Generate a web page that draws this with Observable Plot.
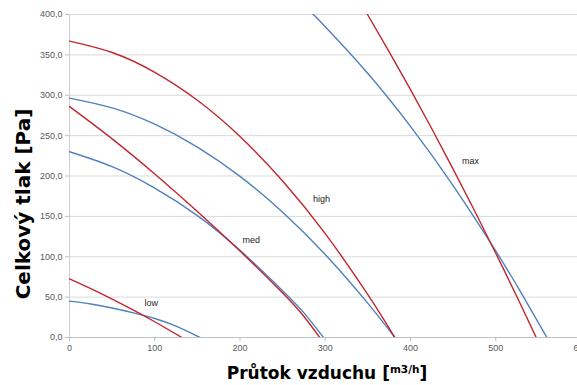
<!DOCTYPE html>
<html><head><meta charset="utf-8">
<script src="https://cdn.jsdelivr.net/npm/d3@7"></script>
<script src="https://cdn.jsdelivr.net/npm/@observablehq/plot@0.6"></script>
<style>html,body{margin:0;padding:0;overflow:hidden;background:#fff}</style>
</head><body><div id="chart"></div>
<script>
const xTicks = [0, 100, 200, 300, 400, 500, 600];
const yTicks = [0, 50, 100, 150, 200, 250, 300, 350, 400];

// red curves [flow m3/h, pressure Pa]
const lowRed  = [[0,72.5],[25,60.4],[50,47.5],[75,33.9],[100,19.5],[132,0]];
const medRed  = [[0,286],[50,246],[100,202.5],[150,156],[200,107],[250,55],[275,26],[293.6,0]];
const highRed = [[0,367],[50,352.9],[100,328.4],[150,293.8],[200,249],[250,193.9],[300,128.6],[350,53],[381.6,0]];
const maxRed  = [[349.6,400],[375,353.8],[400,306.9],[425,258.5],[450,208.6],[475,157.3],[500,104.4],[525,50.1],[547.5,0]];

// blue curves
const lowBlue  = [[0,45],[25,41.5],[50,36.5],[75,30.5],[100,23.5],[125,14],[153,0]];
const medBlue  = [[0,230],[50,211.5],[100,185],[150,151],[200,108],[250,58],[275,30.5],[298,0]];
const highBlue = [[0,296.5],[50,284.3],[100,264.1],[150,235.8],[200,199.5],[250,155.2],[300,102.8],[350,42.3],[381.6,0]];
const maxBlue  = [[285.8,400],[300,384.9],[350,327],[400,261.5],[450,188.2],[500,107.2],[530,55],[560,0]];

const curveNames = ["low", "med", "high", "max"];
const labelX = [95.8, 213.1, 295.6, 470.4];
const labelY = [42.8, 120.5, 171.3, 218.7];

const toRows = (sets) => sets.flatMap((pts, i) => pts.map(([x, y]) => ({curve: curveNames[i], x, y})));
const redRows = toRows([lowRed, medRed, highRed, maxRed]);
const blueRows = toRows([lowBlue, medBlue, highBlue, maxBlue]);
const labels = curveNames.map((name, i) => ({name, x: labelX[i], y: labelY[i]}));

const chart = Plot.plot({
  width: 590, height: 385,
  marginLeft: 69, marginRight: 9.5, marginTop: 14, marginBottom: 48,
  style: {fontFamily: "'Liberation Sans', Arial, sans-serif", fontSize: "9px", color: "#595959", background: "#fff", maxWidth: "none"},
  x: {domain: [0, 600]},
  y: {domain: [0, 400]},
  marks: [
    Plot.ruleY(yTicks.filter(d => d > 0), {stroke: "#d9d9d9", strokeWidth: 1}),
    Plot.ruleX([0], {stroke: "#d0d0d0"}),
    Plot.ruleY([0], {stroke: "#bfbfbf"}),
    Plot.axisX({ticks: xTicks, tickSize: 4, tickPadding: 3, stroke: "#bfbfbf", tickFormat: d => d, label: null}),
    Plot.axisY({ticks: yTicks, tickSize: 4, tickPadding: 3, stroke: "#bfbfbf", tickFormat: d => d.toFixed(1).replace(".", ","), label: null}),
    Plot.line(blueRows, {x: "x", y: "y", z: "curve", stroke: "#4f81bd", strokeWidth: 1.4, curve: "natural", clip: true}),
    Plot.line(redRows, {x: "x", y: "y", z: "curve", stroke: "#c0272d", strokeWidth: 1.4, curve: "natural", clip: true}),
    Plot.text(labels, {x: "x", y: "y", text: "name", fill: "#262626", fontSize: 9}),
    Plot.text(["Celkový tlak [Pa]"], {frameAnchor: "left", textAnchor: "middle", rotate: -90, dx: -46, dy: 28,
      fontSize: 20, fontWeight: "bold", fill: "#000", fontFamily: "'DejaVu Sans', Verdana, sans-serif"})
  ]
});
document.getElementById("chart").appendChild(chart);

const svg = d3.select(chart);
const t = svg.append("text")
  .attr("x", 327).attr("y", 379)
  .attr("text-anchor", "middle")
  .attr("fill", "#000")
  .style("font-family", "'DejaVu Sans', Verdana, sans-serif")
  .style("font-weight", "bold")
  .style("font-size", "17px");
t.append("tspan").text("Průtok vzduchu [");
t.append("tspan").attr("font-size", "10.5px").attr("dy", -6).text("m3/h");
t.append("tspan").attr("dy", 6).text("]");
</script>
</body></html>
